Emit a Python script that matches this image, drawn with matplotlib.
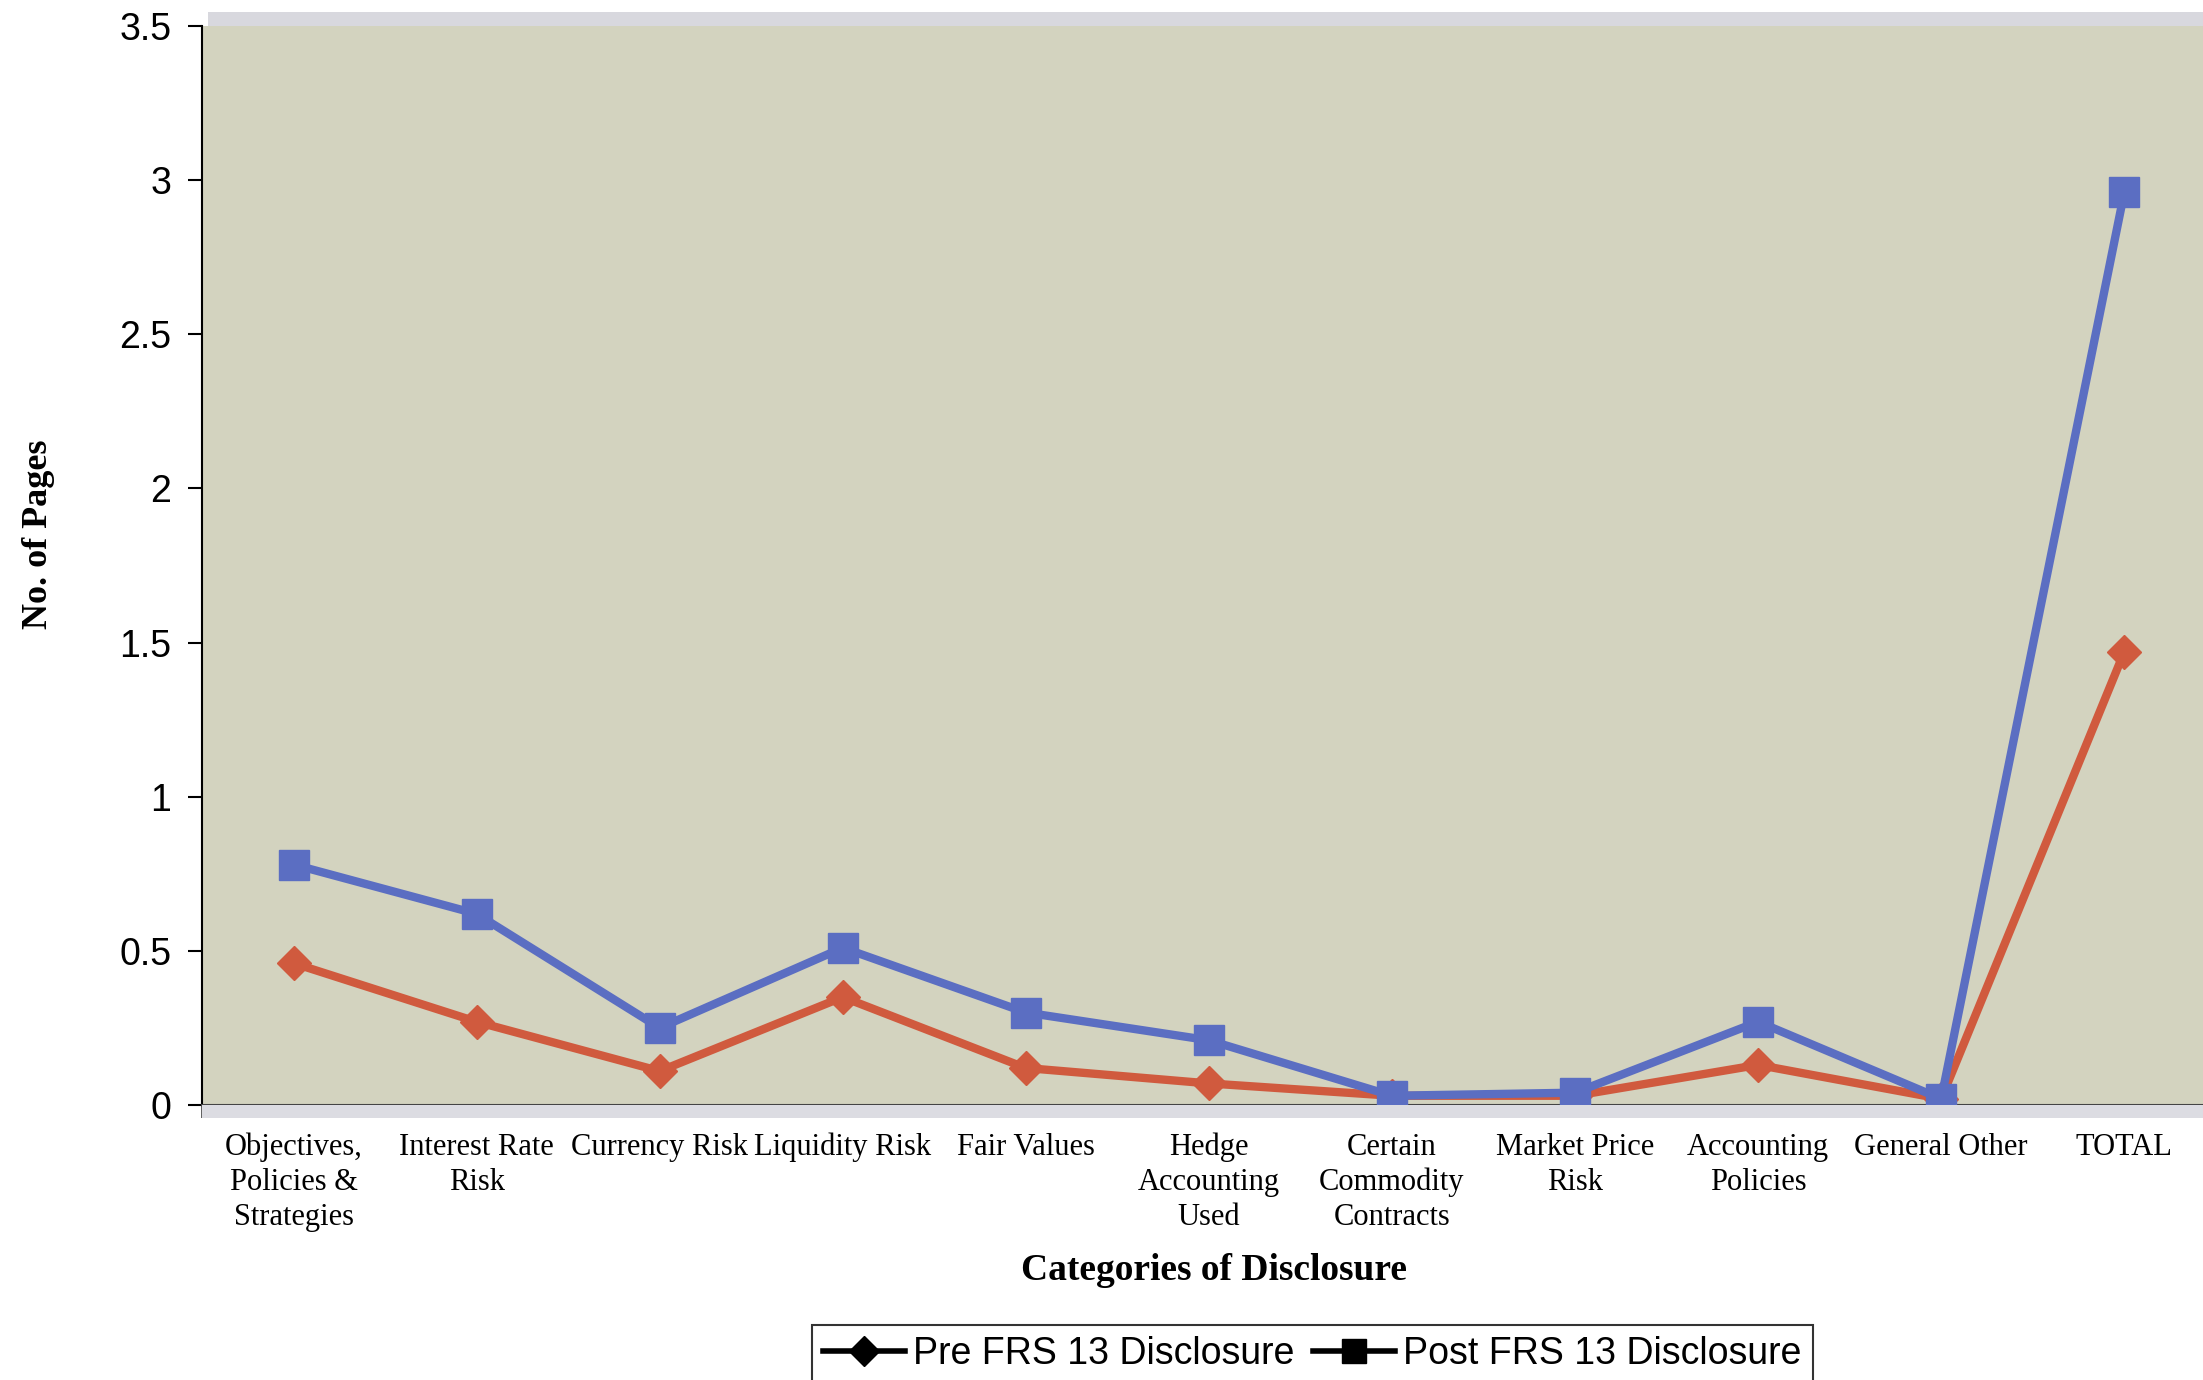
import matplotlib
matplotlib.use("Agg")
import matplotlib.pyplot as plt
from matplotlib.lines import Line2D
from matplotlib.patches import Rectangle
import numpy as np

categories = ["Objectives,\nPolicies &\nStrategies", "Interest Rate\nRisk", "Currency Risk",
              "Liquidity Risk", "Fair Values", "Hedge\nAccounting\nUsed", "Certain\nCommodity\nContracts",
              "Market Price\nRisk", "Accounting\nPolicies", "General Other", "TOTAL"]
pre_frs13 = [0.46, 0.27, 0.11, 0.35, 0.12, 0.07, 0.03, 0.03, 0.13, 0.02, 1.47]
post_frs13 = [0.78, 0.62, 0.25, 0.51, 0.30, 0.21, 0.03, 0.04, 0.27, 0.02, 2.96]
y_ticks = [0, 0.5, 1, 1.5, 2, 2.5, 3, 3.5]
y_tick_labels = ["0", "0.5", "1", "1.5", "2", "2.5", "3", "3.5"]
series_names = ["Pre FRS 13 Disclosure", "Post FRS 13 Disclosure"]

W, H = 2203, 1380
fig = plt.figure(figsize=(W / 100, H / 100), dpi=100)
ax_left, ax_right = 202 / W, 1.0
ax_bottom, ax_top = 1 - 1105 / H, 1 - 26 / H
ax = fig.add_axes([ax_left, ax_bottom, ax_right - ax_left, ax_top - ax_bottom])
ax.set_facecolor("#d3d3bf")

# decorative wall top band and floor band
fig.patches.append(Rectangle((208 / W, ax_top), 1 - 208 / W, 14 / H, transform=fig.transFigure,
                             facecolor="#d8d8de", edgecolor="none", zorder=0))
fig.patches.append(Rectangle((ax_left, ax_bottom - 13 / H), 1 - ax_left, 13 / H, transform=fig.transFigure,
                             facecolor="#dcdce2", edgecolor="none", zorder=0))

x = np.arange(len(categories))
red = "#d05a3e"
blue = "#5b6ec2"
ax.plot(x, pre_frs13, color=red, lw=6, marker="D", ms=17, mfc=red, mec=red, zorder=3)
ax.plot(x, post_frs13, color=blue, lw=6, marker="s", ms=22, mfc=blue, mec=blue, zorder=4)

ax.set_xlim(-0.5, 10.43)
ax.set_ylim(0, 3.5)
ax.set_yticks(y_ticks)
ax.set_yticklabels(y_tick_labels, fontfamily="Liberation Sans", fontsize=27)
ax.tick_params(axis="y", direction="out", length=10, width=1.5, pad=12, color="black")

ax.set_xticks(x)
ax.set_xticklabels(categories, fontfamily="Liberation Serif", fontsize=22, linespacing=1.27, va="top")
ax.tick_params(axis="x", which="major", length=0, pad=20)
ax.set_xticks(np.arange(-0.5, 10.5, 1.0), minor=True)
ax.tick_params(axis="x", which="minor", direction="out", length=9, width=1.2, color="#444444")

for s in ["top", "right"]:
    ax.spines[s].set_visible(False)
ax.spines["left"].set_linewidth(1.5)
ax.spines["bottom"].set_linewidth(1.5)
ax.spines["bottom"].set_color("#444444")

fig.text(1214 / W, 1 - 1270 / H, "Categories of Disclosure", fontfamily="Liberation Serif",
         fontweight="bold", fontsize=27, ha="center", va="center")
fig.text(39 / W, 1 - 534 / H, "No. of Pages", fontfamily="Liberation Serif",
         fontweight="bold", fontsize=26, ha="center", va="center", rotation=90)

handles = [Line2D([], [], color="black", lw=4, marker="D", ms=15),
           Line2D([], [], color="black", lw=4, marker="s", ms=17)]
leg = fig.legend(handles, series_names, loc="upper center", bbox_to_anchor=(1312 / W, 1 - 1325 / H),
                 ncol=2, frameon=True, fancybox=False, edgecolor="black", handlelength=2.2,
                 handletextpad=0.2, columnspacing=0.5, borderpad=0.3, borderaxespad=0,
                 prop={"family": "Liberation Sans", "size": 27})
leg.get_frame().set_linewidth(1.5)

fig.savefig("out.png", dpi=100, facecolor="white")
